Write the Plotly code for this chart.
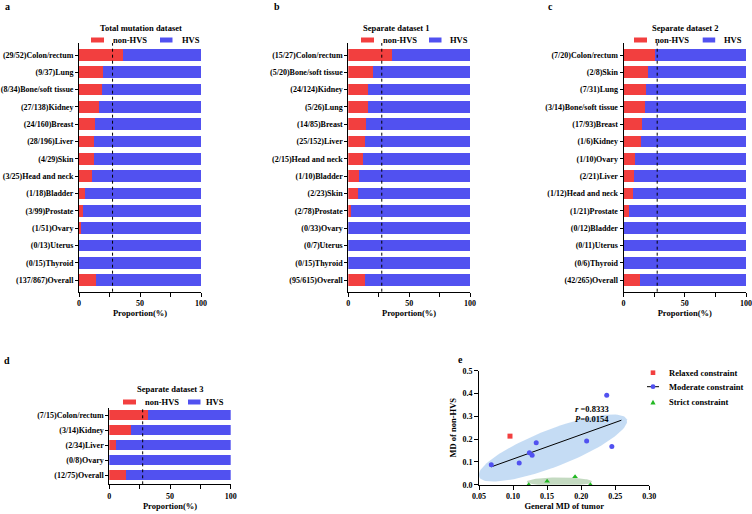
import numpy as np
import plotly.graph_objects as go

W, H = 752, 514
FONT = "Liberation Serif, Times New Roman, serif"
RED = "#F23F3F"
BLUE = "#5151F0"
GREEN = "#22B822"

# ---------------- data ----------------
a_names = ["Colon/rectum", "Lung", "Bone/soft tissue", "Kidney", "Breast", "Liver", "Skin",
           "Head and neck", "Bladder", "Prostate", "Ovary", "Uterus", "Thyroid", "Overall"]
a_nonhvs = [29, 9, 8, 27, 24, 28, 4, 3, 1, 3, 1, 0, 0, 137]
a_hvs = [52, 37, 34, 138, 160, 196, 29, 25, 18, 99, 51, 13, 15, 867]

b_names = ["Colon/rectum", "Bone/soft tissue", "Kidney", "Lung", "Breast", "Liver", "Head and neck",
           "Bladder", "Skin", "Prostate", "Ovary", "Uterus", "Thyroid", "Overall"]
b_nonhvs = [15, 5, 24, 5, 14, 25, 2, 1, 2, 2, 0, 0, 0, 95]
b_hvs = [27, 20, 124, 26, 85, 152, 15, 10, 23, 78, 33, 7, 15, 615]

c_names = ["Colon/rectum", "Skin", "Lung", "Bone/soft tissue", "Breast", "Kidney", "Ovary", "Liver",
           "Head and neck", "Prostate", "Bladder", "Uterus", "Thyroid", "Overall"]
c_nonhvs = [7, 2, 7, 3, 17, 1, 1, 2, 1, 1, 0, 0, 0, 42]
c_hvs = [20, 8, 31, 14, 93, 6, 10, 21, 12, 21, 12, 11, 6, 265]

d_names = ["Colon/rectum", "Kidney", "Liver", "Ovary", "Overall"]
d_nonhvs = [7, 3, 2, 0, 12]
d_hvs = [15, 14, 34, 8, 75]

panel_titles = ["Total mutation dataset", "Separate dataset 1", "Separate dataset 2", "Separate dataset 3"]
ref_line = 27.5
x_tickvals = [0, 25, 50, 75, 100]
x_ticktext = ["0", "", "50", "", "100"]

relaxed_x = [0.0955]
relaxed_y = [0.213]
moderate_x = [0.068, 0.109, 0.124, 0.128, 0.134, 0.208, 0.2375, 0.245]
moderate_y = [0.087, 0.095, 0.140, 0.129, 0.184, 0.192, 0.392, 0.167]
strict_x = [0.123, 0.150, 0.191, 0.2135]
strict_y = [0.0, 0.015, 0.035, 0.0]
fit_x_range = [0.068, 0.259]
stats_text = ["<i>r</i> =0.8333", "<i>P</i>=0.0154"]


def px(x):
    return x / W


def py(y):
    return 1 - y / H


fig = go.Figure()

bar_panels = [
    dict(names=a_names, non=a_nonhvs, hvs=a_hvs, s="", xd=(79, 201), yd=(43, 291.7), top_c=55, bot_c=280,
         width=0.675, title_x=141, title_y=28, leg_y=40, leg=(91, 111, 160, 180)),
    dict(names=b_names, non=b_nonhvs, hvs=b_hvs, s="2", xd=(348.3, 470), yd=(43, 291.7), top_c=55, bot_c=280,
         width=0.675, title_x=396.5, title_y=28, leg_y=40, leg=(361, 381, 429, 448)),
    dict(names=c_names, non=c_nonhvs, hvs=c_hvs, s="3", xd=(623.5, 746), yd=(43, 291.7), top_c=55, bot_c=280,
         width=0.675, title_x=685, title_y=28, leg_y=40, leg=(634, 652.7, 702.7, 721.7)),
    dict(names=d_names, non=d_nonhvs, hvs=d_hvs, s="4", xd=(109.3, 230.7), yd=(408, 484.3), top_c=415, bot_c=475,
         width=0.62, title_x=170, title_y=389, leg_y=402, leg=(123, 143, 188, 204)),
]

tickfont = dict(family=FONT, size=8, color="black", weight="bold")
titlefont = dict(family=FONT, size=8.5, color="black", weight="bold")

shapes = []
annotations = []
layout_axes = {}

for i, p in enumerate(bar_panels):
    s = p["s"]
    non = np.array(p["non"], dtype=float)
    hv = np.array(p["hvs"], dtype=float)
    non_pct = non / (non + hv) * 100
    hvs_pct = 100 - non_pct
    labels = [f"({n}/{h}){nm}" for n, h, nm in zip(p["non"], p["hvs"], p["names"])]
    fig.add_trace(go.Bar(y=labels, x=non_pct, orientation="h", marker=dict(color=RED, line=dict(width=0)),
                         width=p["width"], name="non-HVS", showlegend=False,
                         xaxis="x" + s, yaxis="y" + s))
    fig.add_trace(go.Bar(y=labels, x=hvs_pct, orientation="h", marker=dict(color=BLUE, line=dict(width=0)),
                         width=p["width"], name="HVS", showlegend=False,
                         xaxis="x" + s, yaxis="y" + s))
    n = len(labels)
    unit = (p["bot_c"] - p["top_c"]) / (n - 1)
    r_top = -(p["top_c"] - p["yd"][0]) / unit
    r_bot = (n - 1) + (p["yd"][1] - p["bot_c"]) / unit
    layout_axes["xaxis" + s] = dict(
        domain=[px(p["xd"][0]), px(p["xd"][1])], range=[0, 100], anchor="y" + s, automargin=False,
        tickvals=x_tickvals, ticktext=x_ticktext, ticks="outside", ticklen=4, tickwidth=1,
        tickcolor="black", showline=True, linecolor="black", linewidth=1, showgrid=False,
        zeroline=False, tickfont=tickfont, fixedrange=True,
        title=dict(text="Proportion(%)", font=titlefont, standoff=2))
    layout_axes["yaxis" + s] = dict(
        domain=[py(p["yd"][1]), py(p["yd"][0])], anchor="x" + s, type="category", automargin=False,
        categoryorder="array", categoryarray=labels, range=[r_bot, r_top],
        ticks="outside", ticklen=3, tickwidth=1, tickcolor="black", showline=True,
        linecolor="black", linewidth=1, showgrid=False, zeroline=False, tickfont=tickfont)
    shapes.append(dict(type="line", xref="x" + s, yref="y" + s + " domain", x0=ref_line, x1=ref_line,
                       y0=0, y1=1, line=dict(color="black", width=1, dash="dot"), layer="above"))
    annotations.append(dict(text=panel_titles[i], x=px(p["title_x"]), y=py(p["title_y"]), xref="paper",
                            yref="paper", showarrow=False, font=titlefont, xanchor="center", yanchor="middle"))
    rx, tx, bx, hx = p["leg"]
    ly = p["leg_y"]
    shapes.append(dict(type="rect", xref="paper", yref="paper", x0=px(rx), x1=px(rx + 13),
                       y0=py(ly + 2.5), y1=py(ly - 2.5), fillcolor=RED, line=dict(width=0)))
    shapes.append(dict(type="rect", xref="paper", yref="paper", x0=px(bx), x1=px(bx + 12.5),
                       y0=py(ly + 2.5), y1=py(ly - 2.5), fillcolor=BLUE, line=dict(width=0)))
    annotations.append(dict(text="non-HVS", x=px(tx), y=py(ly), xref="paper", yref="paper", showarrow=False,
                            font=titlefont, xanchor="left", yanchor="middle"))
    annotations.append(dict(text="HVS", x=px(hx), y=py(ly), xref="paper", yref="paper", showarrow=False,
                            font=titlefont, xanchor="left", yanchor="middle"))

# ---------------- panel e ----------------
t = np.linspace(0, 2 * np.pi, 120)
blue_ell = dict(c=(0.1585, 0.161), a=(0.1085, 0.126), b=(0.0099, -0.0761))
green_ell = dict(c=(0.168, 0.013), a=(0.048, 0.0), b=(0.0, 0.019))
for ell, col in [(blue_ell, "rgba(178,208,240,0.75)"), (green_ell, "rgba(165,198,160,0.65)")]:
    ex = ell["c"][0] + ell["a"][0] * np.cos(t) + ell["b"][0] * np.sin(t)
    ey = ell["c"][1] + ell["a"][1] * np.cos(t) + ell["b"][1] * np.sin(t)
    fig.add_trace(go.Scatter(x=ex, y=ey, mode="lines", fill="toself", fillcolor=col,
                             line=dict(width=0), hoverinfo="skip", showlegend=False,
                             xaxis="x5", yaxis="y5"))

slope, intercept = np.polyfit(moderate_x, moderate_y, 1)
fx = np.array(fit_x_range)
fig.add_trace(go.Scatter(x=fx, y=slope * fx + intercept, mode="lines", line=dict(color="black", width=1),
                         showlegend=False, xaxis="x5", yaxis="y5"))
fig.add_trace(go.Scatter(x=relaxed_x, y=relaxed_y, mode="markers", name="Relaxed constraint",
                         marker=dict(symbol="square", size=5, color=RED), cliponaxis=False,
                         showlegend=False, xaxis="x5", yaxis="y5"))
fig.add_trace(go.Scatter(x=moderate_x, y=moderate_y, mode="markers", name="Moderate constraint",
                         marker=dict(symbol="circle", size=5, color=BLUE), cliponaxis=False,
                         showlegend=False, xaxis="x5", yaxis="y5"))
fig.add_trace(go.Scatter(x=strict_x, y=strict_y, mode="markers", name="Strict constraint",
                         marker=dict(symbol="triangle-up", size=5, color=GREEN), cliponaxis=False,
                         showlegend=False, xaxis="x5", yaxis="y5"))

layout_axes["xaxis5"] = dict(
    domain=[px(479), px(649.3)], range=[0.05, 0.30], anchor="y5", dtick=0.05, tickformat=".2f",
    automargin=False,
    ticks="outside", ticklen=4, tickcolor="black", showline=True, linecolor="black", linewidth=1,
    showgrid=False, zeroline=False, tickfont=tickfont,
    title=dict(text="General MD of tumor", font=titlefont, standoff=2))
layout_axes["yaxis5"] = dict(
    domain=[py(484.7), py(370.7)], range=[0, 0.5], anchor="x5", dtick=0.1, tickformat=".1f",
    automargin=False,
    ticks="outside", ticklen=4, tickcolor="black", showline=True, linecolor="black", linewidth=1,
    showgrid=False, zeroline=False, tickfont=tickfont,
    title=dict(text="MD of non-HVS", font=titlefont, standoff=4))

for k, txt in enumerate(stats_text):
    annotations.append(dict(text=txt, x=px(573), y=py(409 + 10 * k), xref="paper", yref="paper",
                            showarrow=False, font=titlefont, xanchor="left", yanchor="middle"))

# legend for panel e (manual)
leg_items = [("Relaxed constraint", 372.7), ("Moderate constraint", 386.7), ("Strict constraint", 402.3)]
mx = 653
shapes.append(dict(type="rect", xref="paper", yref="paper", x0=px(mx - 2.3), x1=px(mx + 2.3),
                   y0=py(372.7 + 2.3), y1=py(372.7 - 2.3), fillcolor=RED, line=dict(width=0)))
shapes.append(dict(type="line", xref="paper", yref="paper", x0=px(647), x1=px(659),
                   y0=py(386.7), y1=py(386.7), line=dict(color="black", width=1)))
shapes.append(dict(type="circle", xref="paper", yref="paper", x0=px(mx - 2.4), x1=px(mx + 2.4),
                   y0=py(386.7 + 2.4), y1=py(386.7 - 2.4), fillcolor=BLUE, line=dict(width=0)))
ty = 402.3
shapes.append(dict(type="path", xref="paper", yref="paper",
                   path=f"M {px(mx - 2.6)},{py(ty + 2.2)} L {px(mx + 2.6)},{py(ty + 2.2)} L {px(mx)},{py(ty - 2.6)} Z",
                   fillcolor=GREEN, line=dict(width=0)))
for txt, yy in leg_items:
    annotations.append(dict(text=txt, x=px(666.5), y=py(yy), xref="paper", yref="paper", showarrow=False,
                            font=titlefont, xanchor="left", yanchor="middle"))

# panel letters
for letter, lx, ly in [("a", 7, 7), ("b", 277, 7), ("c", 550, 7), ("d", 7, 360), ("e", 461, 359)]:
    annotations.append(dict(text=letter, x=px(lx), y=py(ly), xref="paper", yref="paper", showarrow=False,
                            font=dict(family=FONT, size=10, color="black", weight="bold"),
                            xanchor="center", yanchor="middle"))

fig.update_layout(
    width=W, height=H, autosize=False, margin=dict(l=0, r=0, t=0, b=0),
    paper_bgcolor="white", plot_bgcolor="white", barmode="stack", showlegend=False,
    hovermode=False, shapes=shapes, annotations=annotations, **layout_axes)

fig.write_html("out.html", config={"displayModeBar": False},
               post_script="document.body.style.margin='0px';document.body.style.overflow='hidden';")
